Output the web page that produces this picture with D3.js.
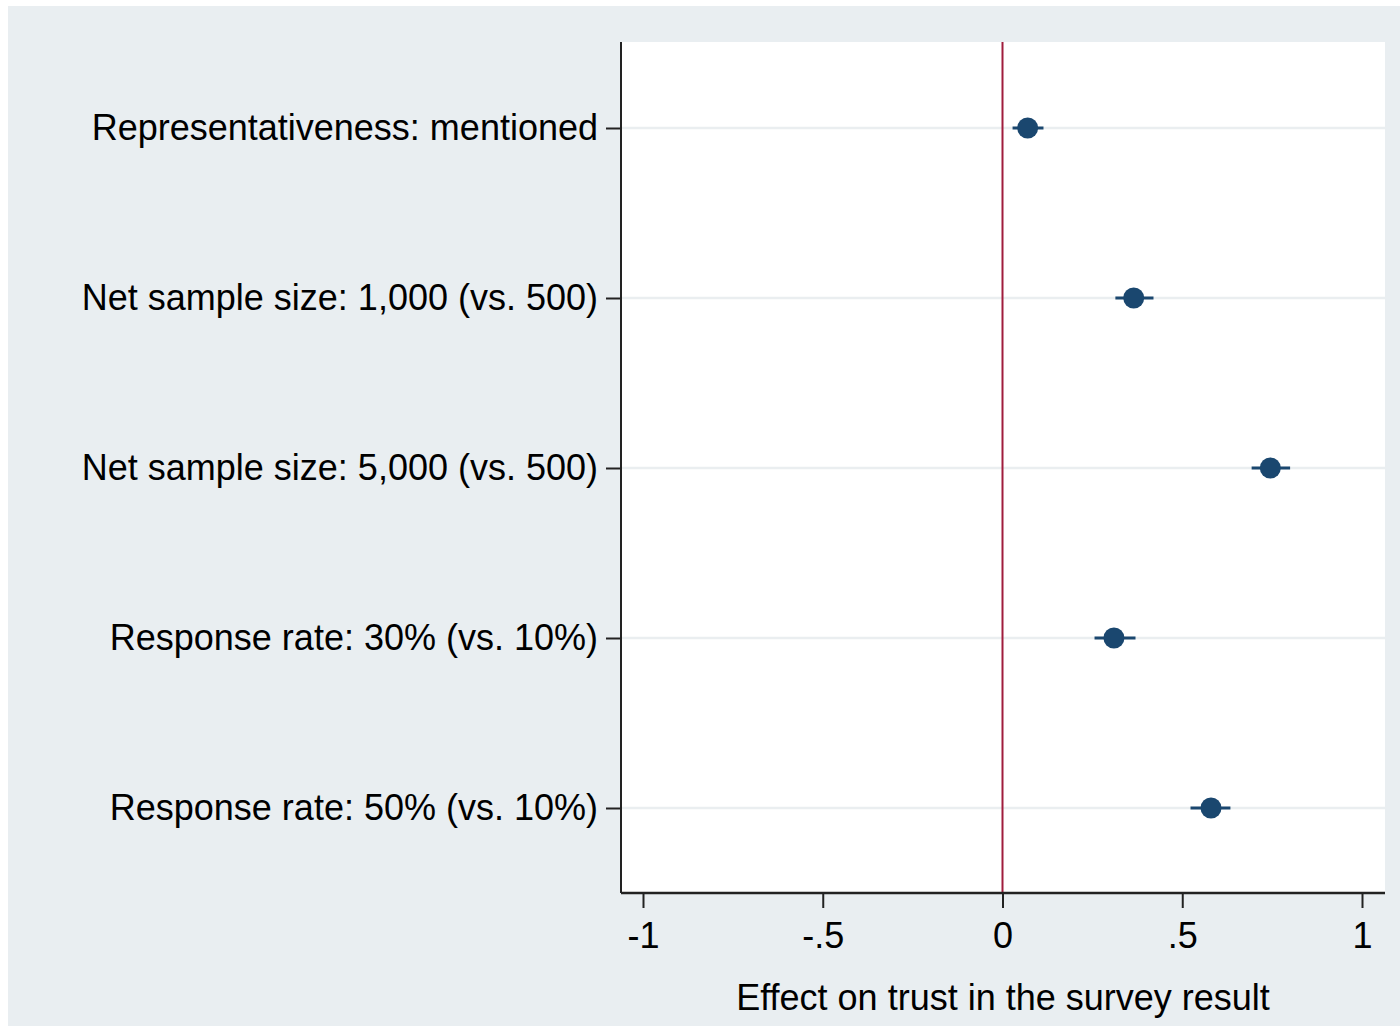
<!DOCTYPE html>
<html>
<head>
<meta charset="utf-8">
<script src="https://cdn.jsdelivr.net/npm/d3@7"></script>
<style>
  body { margin: 0; background: #fff; }
  svg text { font-family: "Liberation Sans", Arial, sans-serif; fill: #000; }
</style>
</head>
<body>
<div class="chart"></div>
<script>
'use strict';

var labels = [
  'Representativeness: mentioned',
  'Net sample size: 1,000 (vs. 500)',
  'Net sample size: 5,000 (vs. 500)',
  'Response rate: 30% (vs. 10%)',
  'Response rate: 50% (vs. 10%)'
];
var estimates = [0.07, 0.365, 0.745, 0.31, 0.58];
var ciLow = [0.028, 0.314, 0.693, 0.256, 0.523];
var ciHigh = [0.114, 0.42, 0.80, 0.37, 0.634];
var xTicks = [-1, -0.5, 0, 0.5, 1];
var xTickLabels = ['-1', '-.5', '0', '.5', '1'];
var xTitle = 'Effect on trust in the survey result';

var width = 1400,
    height = 1026,
    plot = { left: 621, right: 1385, top: 42, bottom: 893 },
    navy = '#1a476f',
    fontSize = 36;

var svg = d3.select('.chart').append('svg')
  .attr('width', width)
  .attr('height', height);

// outer graph region
svg.append('rect')
  .attr('x', 8).attr('y', 6)
  .attr('width', width - 8).attr('height', height - 6)
  .attr('fill', '#e9eef1');

// plot region
svg.append('rect')
  .attr('x', plot.left).attr('y', plot.top)
  .attr('width', plot.right - plot.left).attr('height', plot.bottom - plot.top)
  .attr('fill', '#fff');

var x = d3.scaleLinear().domain([-1, 1]).range([643, 1362]);
var y = d3.scalePoint().domain(labels).range([128, 808]);

var rows = labels.map(function (d, i) {
  return { label: d, est: estimates[i], lo: ciLow[i], hi: ciHigh[i] };
});

// horizontal grid lines
svg.append('g').selectAll('line').data(labels).enter().append('line')
  .attr('x1', plot.left).attr('x2', plot.right)
  .attr('y1', function (d) { return y(d); })
  .attr('y2', function (d) { return y(d); })
  .attr('stroke', '#eaeef0')
  .attr('stroke-width', 2.5);

// zero reference line
svg.append('line')
  .attr('x1', x(0)).attr('x2', x(0))
  .attr('y1', plot.top).attr('y2', plot.bottom)
  .attr('stroke', '#a01c3c')
  .attr('stroke-width', 2);

// y axis
var yAxis = svg.append('g')
  .attr('transform', 'translate(' + plot.left + ',0)')
  .call(d3.axisLeft(y).tickSize(15).tickPadding(8));
yAxis.select('.domain').remove();
yAxis.append('line')
  .attr('x1', 0).attr('x2', 0)
  .attr('y1', plot.top).attr('y2', plot.bottom)
  .attr('stroke', '#222').attr('stroke-width', 2);

// x axis
var xAxis = svg.append('g')
  .attr('transform', 'translate(0,' + plot.bottom + ')')
  .call(d3.axisBottom(x).tickValues(xTicks)
    .tickFormat(function (d, i) { return xTickLabels[i]; })
    .tickSize(15).tickPadding(14));
xAxis.select('.domain').remove();
xAxis.append('line')
  .attr('x1', plot.left).attr('x2', plot.right)
  .attr('y1', 0).attr('y2', 0)
  .attr('stroke', '#222').attr('stroke-width', 2.5);

svg.selectAll('.tick line').attr('stroke', '#222').attr('stroke-width', 2);
svg.selectAll('.tick text')
  .style('font-size', fontSize + 'px')
  .style('font-family', '"Liberation Sans", Arial, sans-serif')
  .attr('fill', '#000');

svg.append('text')
  .attr('x', 1003).attr('y', 1010)
  .attr('text-anchor', 'middle')
  .style('font-size', fontSize + 'px')
  .text(xTitle);

// confidence intervals
svg.append('g').selectAll('line').data(rows).enter().append('line')
  .attr('x1', function (d) { return x(d.lo); })
  .attr('x2', function (d) { return x(d.hi); })
  .attr('y1', function (d) { return y(d.label); })
  .attr('y2', function (d) { return y(d.label); })
  .attr('stroke', navy)
  .attr('stroke-width', 3);

// point estimates
svg.append('g').selectAll('circle').data(rows).enter().append('circle')
  .attr('cx', function (d) { return x(d.est); })
  .attr('cy', function (d) { return y(d.label); })
  .attr('r', 10.5)
  .attr('fill', navy);
</script>
</body>
</html>
